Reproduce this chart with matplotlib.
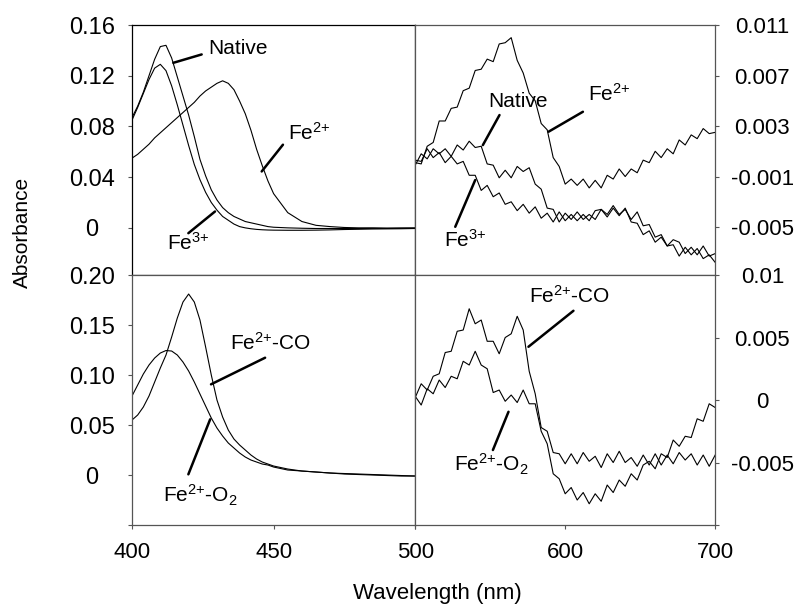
import matplotlib
matplotlib.use("Agg")
import matplotlib.pyplot as plt

plt.rcParams['font.family'] = ['Liberation Sans', 'DejaVu Sans']
plt.rcParams['mathtext.fontset'] = 'custom'
plt.rcParams['mathtext.rm'] = 'Liberation Sans'
plt.rcParams['mathtext.it'] = 'Liberation Sans:italic'
plt.rcParams['mathtext.bf'] = 'Liberation Sans:bold'

fontsize_left = 17
fontsize_right = 16
fontsize_bottom = 16
fontsize_note = 15

# ---- Soret region (400-500 nm) ----
soret_nm = [400, 402, 404, 406, 408, 410, 412, 414, 416, 418, 420, 422, 424,
            426, 428, 430, 432, 434, 436, 438, 440, 442, 444, 446, 448, 450,
            455, 460, 465, 470, 475, 480, 485, 490, 495, 500]

native_soret = [0.087, 0.096, 0.107, 0.120, 0.133, 0.143, 0.144, 0.134, 0.119,
                0.104, 0.089, 0.072, 0.054, 0.041, 0.030, 0.022, 0.016, 0.012,
                0.009, 0.007, 0.005, 0.004, 0.003, 0.002, 0.001, 0.0005,
                0.0, -0.0003, -0.0005, -0.0005, -0.0005, -0.0005, -0.0004,
                -0.0004, -0.0003, -0.0003]
fe3_soret = [0.085, 0.095, 0.106, 0.117, 0.126, 0.129, 0.124, 0.112, 0.097,
             0.081, 0.065, 0.050, 0.038, 0.028, 0.020, 0.014, 0.009, 0.006,
             0.003, 0.001, 0.0, -0.0007, -0.0012, -0.0015, -0.0017, -0.0018,
             -0.0019, -0.0019, -0.0018, -0.0016, -0.0013, -0.0011, -0.0009,
             -0.0008, -0.0007, -0.0005]
fe2_soret = [0.055, 0.058, 0.062, 0.066, 0.071, 0.075, 0.079, 0.083, 0.087,
             0.091, 0.095, 0.099, 0.104, 0.108, 0.111, 0.114, 0.116, 0.114,
             0.109, 0.100, 0.090, 0.077, 0.062, 0.049, 0.037, 0.027,
             0.012, 0.005, 0.002, 0.001, 0.0003, 0.0, 0.0, -0.0002, -0.0001, 0.0]
co_soret = [0.055, 0.060, 0.068, 0.079, 0.093, 0.107, 0.120, 0.138, 0.157,
            0.173, 0.181, 0.173, 0.155, 0.128, 0.100, 0.075, 0.058, 0.045,
            0.036, 0.030, 0.025, 0.020, 0.016, 0.013, 0.011, 0.009,
            0.006, 0.004, 0.003, 0.002, 0.0015, 0.001, 0.0005, 0.0, -0.0005, -0.001]
o2_soret = [0.079, 0.090, 0.101, 0.110, 0.117, 0.122, 0.1245, 0.124, 0.120,
            0.113, 0.104, 0.093, 0.081, 0.069, 0.057, 0.047, 0.039, 0.032,
            0.027, 0.022, 0.018, 0.015, 0.013, 0.011, 0.010, 0.008,
            0.005, 0.004, 0.003, 0.002, 0.001, 0.0005, 0.0, -0.0005, -0.001, -0.001]

# ---- visible region (500-700 nm), values in units of 1e-4 ----
vis_nm = list(range(500, 701, 4))

fe2_vis = [1, 0, 14, 17, 34, 34, 44, 45, 58, 60, 74, 75, 83, 81, 95, 96, 100,
           82, 72, 56, 50, 32, 27, 5, -2, -16, -12, -17, -12, -19, -13, -19,
           -9, -12, -4, -10, -4, -7, 3, 1, 10, 5, 12, 8, 19, 15, 23, 20, 28, 24, 25]
native_vis = [-1, 8, 4, 12, 8, 12, 6, 15, 11, 18, 13, 14, 0, -1, -11, -5, -11,
              -2, -6, -3, -16, -20, -35, -36, -46, -39, -44, -38, -44, -40, -44,
              -36, -40, -33, -40, -36, -44, -38, -49, -48, -58, -56, -65, -60,
              -62, -71, -66, -72, -65, -73, -71]
fe3_vis = [3, 2, 12, 5, 9, 1, 6, 0, 2, -9, -9, -21, -17, -26, -23, -32, -30,
           -37, -32, -39, -34, -43, -39, -46, -38, -45, -40, -45, -40, -45, -37,
           -36, -42, -35, -41, -35, -46, -47, -56, -53, -62, -58, -65, -64, -73,
           -66, -72, -67, -75, -72, -78]
co_vis = [2, 13, 8, 19, 21, 38, 39, 55, 56, 73, 61, 64, 47, 47, 37, 50, 53, 67,
          56, 23, 5, -22, -25, -42, -43, -51, -43, -51, -42, -49, -45, -54, -43,
          -50, -41, -50, -46, -53, -44, -52, -43, -52, -44, -51, -42, -48, -43,
          -52, -44, -53, -44]
o2_vis = [3, -4, 9, 5, 16, 10, 19, 17, 31, 28, 39, 28, 25, 6, 8, -1, 4, -2, 8,
          -3, -3, -25, -35, -59, -63, -75, -70, -80, -74, -83, -75, -81, -68,
          -74, -64, -69, -59, -64, -52, -49, -55, -43, -46, -32, -37, -29, -30,
          -15, -17, -3, -6]

tl_ticks = [0, 0.04, 0.08, 0.12, 0.16]
tl_labels = ['0', '0.04', '0.08', '0.12', '0.16']
bl_ticks = [-0.05, 0, 0.05, 0.10, 0.15, 0.20]
bl_labels = ['', '0', '0.05', '0.10', '0.15', '0.20']
tr_ticks = [-0.005, -0.001, 0.003, 0.007, 0.011]
tr_labels = ['-0.005', '-0.001', '0.003', '0.007', '0.011']
br_ticks = [-0.01, -0.005, 0, 0.005, 0.01]
br_labels = ['', '-0.005', '0', '0.005', '0.01']

spine_color = '#555555'

FE2 = r'Fe$^{\mathregular{2{+}}}$'
FE3 = r'Fe$^{\mathregular{3{+}}}$'
FE2_CO = r'Fe$^{\mathregular{2{+}}}$-CO'
FE2_O2 = r'Fe$^{\mathregular{2{+}}}$-O$_{\mathregular{2}}$'


def frame(ax, color=spine_color):
    for s in ax.spines.values():
        s.set_color(color)
        s.set_linewidth(0.9)
    ax.tick_params(direction='out', length=3, color=spine_color, width=0.8)


def left_y(ax, ticks, labels):
    ax.set_yticks(ticks, labels)
    ax.tick_params(axis='y', labelsize=fontsize_left, pad=26)
    for lbl in ax.get_yticklabels():
        lbl.set_horizontalalignment('center')


def right_y(ax, ticks, labels):
    ax.yaxis.tick_right()
    ax.set_yticks(ticks, labels)
    ax.tick_params(axis='y', labelsize=fontsize_right, pad=31)
    for lbl in ax.get_yticklabels():
        lbl.set_horizontalalignment('center')


def note(ax, text, pos, start, end):
    ax.text(pos[0], pos[1], text, fontsize=fontsize_note, ha='left', va='baseline')
    ax.annotate('', xy=end, xytext=start,
                arrowprops=dict(arrowstyle='-', color='black', lw=1.8,
                                shrinkA=0, shrinkB=0))


def scaled(vals):
    return [v * 1e-4 for v in vals]


fig = plt.figure(figsize=(8, 6.15), dpi=100)
ax_tl = fig.add_axes([0.165, 0.5528, 0.354, 0.4065])
ax_tr = fig.add_axes([0.519, 0.5528, 0.375, 0.4065])
ax_bl = fig.add_axes([0.165, 0.1463, 0.354, 0.4065])
ax_br = fig.add_axes([0.519, 0.1463, 0.375, 0.4065])

lw = 0.8
# top left
ax_tl.plot(soret_nm, native_soret, color='black', lw=lw)
ax_tl.plot(soret_nm, fe3_soret, color='black', lw=lw)
ax_tl.plot(soret_nm, fe2_soret, color='black', lw=lw)
ax_tl.set_xlim(400, 500)
ax_tl.set_ylim(-0.0372, 0.16)
ax_tl.set_xticks([])
left_y(ax_tl, tl_ticks, tl_labels)
frame(ax_tl, color='black')
note(ax_tl, 'Native', (426.9, 0.1368), (424.6, 0.1368), (414.6, 0.1302))
note(ax_tl, FE2, (455.1, 0.0696), (453.3, 0.0656), (445.8, 0.0445))
note(ax_tl, FE3, (412.4, -0.0174), (419.9, -0.0042), (429.3, 0.0129))

# top right
ax_tr.plot(vis_nm, scaled(fe2_vis), color='black', lw=lw)
ax_tr.plot(vis_nm, scaled(native_vis), color='black', lw=lw)
ax_tr.plot(vis_nm, scaled(fe3_vis), color='black', lw=lw)
ax_tr.set_xlim(500, 700)
ax_tr.set_ylim(-0.0088, 0.011)
ax_tr.set_xticks([])
right_y(ax_tr, tr_ticks, tr_labels)
frame(ax_tr)
note(ax_tr, 'Native', (548.9, 0.00453), (556.2, 0.00387), (545.1, 0.00149))
note(ax_tr, FE2, (615.5, 0.0050), (611.8, 0.00413), (588.9, 0.00255))
note(ax_tr, FE3, (518.9, -0.00656), (526.7, -0.00498), (540.0, -0.00128))

# bottom left
ax_bl.plot(soret_nm, co_soret, color='black', lw=lw)
ax_bl.plot(soret_nm, o2_soret, color='black', lw=lw)
ax_bl.set_xlim(400, 500)
ax_bl.set_ylim(-0.05, 0.20)
ax_bl.set_xticks([400, 450, 500], ['400', '450', '500'])
ax_bl.tick_params(axis='x', labelsize=fontsize_bottom, pad=9)
left_y(ax_bl, bl_ticks, bl_labels)
frame(ax_bl)
note(ax_bl, FE2_CO, (434.6, 0.1257), (447.0, 0.1173), (427.9, 0.0907))
note(ax_bl, FE2_O2, (411.1, -0.0277), (419.9, 0.0007), (427.6, 0.0557))

# bottom right
ax_br.plot(vis_nm, scaled(co_vis), color='black', lw=lw)
ax_br.plot(vis_nm, scaled(o2_vis), color='black', lw=lw)
ax_br.set_xlim(500, 700)
ax_br.set_ylim(-0.01, 0.01)
ax_br.set_xticks([500, 600, 700], ['', '600', '700'])
ax_br.tick_params(axis='x', labelsize=fontsize_bottom, pad=9)
right_y(ax_br, br_ticks, br_labels)
frame(ax_br)
note(ax_br, FE2_CO, (575.6, 0.00774), (605.5, 0.00714), (575.5, 0.00426))
note(ax_br, FE2_O2, (525.6, -0.00573), (551.8, -0.0040), (562.2, -0.00094))

fig.text(22 / 800, 1 - 232 / 615, 'Absorbance', rotation=90,
         ha='center', va='center', fontsize=15)
fig.text(437 / 800, 1 - 594 / 615, 'Wavelength (nm)',
         ha='center', va='center', fontsize=16)

fig.savefig('out.png', dpi=100)
